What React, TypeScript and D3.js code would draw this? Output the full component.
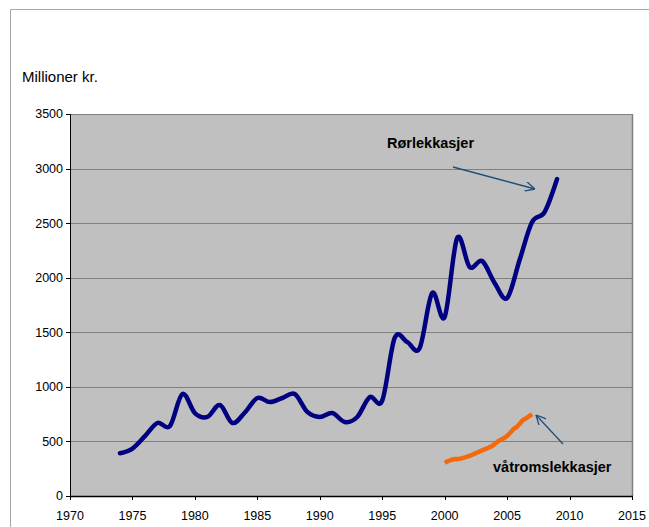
import React from "react";
import * as d3 from "d3";

const years = [1974,1975,1976,1977,1978,1979,1980,1981,1982,1983,1984,1985,1986,1987,1988,1989,1990,1991,1992,1993,1994,1995,1996,1997,1998,1999,2000,2001,2002,2003,2004,2005,2006,2007,2008,2009];
const rorValues = [392,435,548,669,641,935,760,724,834,669,765,898,861,898,935,770,724,760,678,724,907,875,1448,1411,1356,1860,1640,2364,2098,2153,1952,1814,2162,2510,2602,2904];

const vatYears = [2000,2000.25,2000.5,2000.75,2001,2001.25,2001.5,2001.75,2002,2002.25,2002.5,2002.75,2003,2003.25,2003.5,2003.75,2004,2004.25,2004.5,2004.75,2005,2005.25,2005.5,2005.75,2006,2006.25,2006.5,2006.75,2007];
const vatValues = [305,318,330,338,340,342,350,358,368,380,393,405,418,430,442,455,475,500,515,530,550,580,612,630,660,695,710,730,750];

const xTicks = [1970,1975,1980,1985,1990,1995,2000,2005,2010,2015];
const yTicks = [0,500,1000,1500,2000,2500,3000,3500];

const FONT = "'Liberation Sans', Arial, sans-serif";

export default function App() {
  const x = d3.scaleLinear().domain([1970, 2015]).range([70, 632]);
  const y = d3.scaleLinear().domain([0, 3500]).range([496, 114]);

  const line = d3
    .line<[number, number]>()
    .x((d) => x(d[0]))
    .y((d) => y(d[1]))
    .curve(d3.curveCatmullRom.alpha(0));

  const lineLin = d3
    .line<[number, number]>()
    .x((d) => x(d[0]))
    .y((d) => y(d[1]))
    .curve(d3.curveLinear);

  const rorPath = line(years.map((yr, i) => [yr, rorValues[i]] as [number, number])) || "";
  const vatPath = lineLin(vatYears.map((yr, i) => [yr, vatValues[i]] as [number, number])) || "";

  const arrowColor = "#1F4E79";

  return (
    <div style={{ position: "absolute", left: 0, top: 0 }}>
      <svg width={649} height={527} style={{ display: "block", background: "#fff" }}>
        <defs>
          <marker id="arr" viewBox="0 0 10 10" refX="10" refY="5" markerWidth="10" markerHeight="10" markerUnits="userSpaceOnUse" orient="auto">
            <path d="M0,0 L10,5 L0,10" fill="none" stroke={arrowColor} strokeWidth={1.3} />
          </marker>
        </defs>
        {/* outer frame */}
        <path d="M10.5,528 L10.5,9.5 L652,9.5" fill="none" stroke="#a6a6a6" strokeWidth={1} />

        {/* plot area */}
        <rect x={x(1970)} y={y(3500)} width={x(2015) - x(1970)} height={y(0) - y(3500)} fill="#C0C0C0" />
        {yTicks.filter((t) => t > 0).map((t) => (
          <line key={"g" + t} x1={x(1970)} x2={x(2015)} y1={Math.round(y(t)) + 0.5} y2={Math.round(y(t)) + 0.5} stroke="#808080" strokeWidth={1} />
        ))}
        <line x1={Math.round(x(2015)) + 0.5} x2={Math.round(x(2015)) + 0.5} y1={y(3500)} y2={y(0)} stroke="#808080" strokeWidth={1.5} />

        {/* axes */}
        <line x1={x(1970) + 0.5} x2={x(1970) + 0.5} y1={y(3500)} y2={y(0)} stroke="#000" strokeWidth={1} />
        <line x1={x(1970)} x2={x(2015) + 1} y1={y(0) + 0.5} y2={y(0) + 0.5} stroke="#000" strokeWidth={1.5} />
        {yTicks.map((t) => (
          <g key={"y" + t}>
            <line x1={x(1970) - 4} x2={x(1970)} y1={Math.round(y(t)) + 0.5} y2={Math.round(y(t)) + 0.5} stroke="#000" strokeWidth={1} />
            <text x={x(1970) - 7} y={y(t)} dy="0.35em" textAnchor="end" fontFamily={FONT} fontSize={12.5} fill="#000">{t}</text>
          </g>
        ))}
        {xTicks.map((t) => (
          <g key={"x" + t}>
            <line x1={Math.round(x(t)) + 0.5} x2={Math.round(x(t)) + 0.5} y1={y(0)} y2={y(0) + 4} stroke="#000" strokeWidth={1} />
            <text x={x(t)} y={516} dy="0.35em" textAnchor="middle" fontFamily={FONT} fontSize={12.5} fill="#000">{t}</text>
          </g>
        ))}

        <text x={22} y={77} dy="0.35em" fontFamily={FONT} fontSize={15} fill="#000">Millioner kr.</text>

        {/* series */}
        <path d={rorPath} fill="none" stroke="#000080" strokeWidth={4.5} strokeLinejoin="round" strokeLinecap="round" />
        <path d={vatPath} fill="none" stroke="#F26A0C" strokeWidth={4.5} strokeLinejoin="round" />

        {/* annotations */}
        <text x={387} y={143} dy="0.35em" fontFamily={FONT} fontSize={14.5} fontWeight="bold" fill="#000">Rørlekkasjer</text>
        <line x1={453} y1={167} x2={535} y2={189} stroke={arrowColor} strokeWidth={1.3} markerEnd="url(#arr)" />
        <text x={493} y={467} dy="0.35em" fontFamily={FONT} fontSize={14.5} fontWeight="bold" fill="#000">våtromslekkasjer</text>
        <line x1={563} y1={444} x2={536} y2={415} stroke={arrowColor} strokeWidth={1.3} markerEnd="url(#arr)" />
      </svg>
    </div>
  );
}
